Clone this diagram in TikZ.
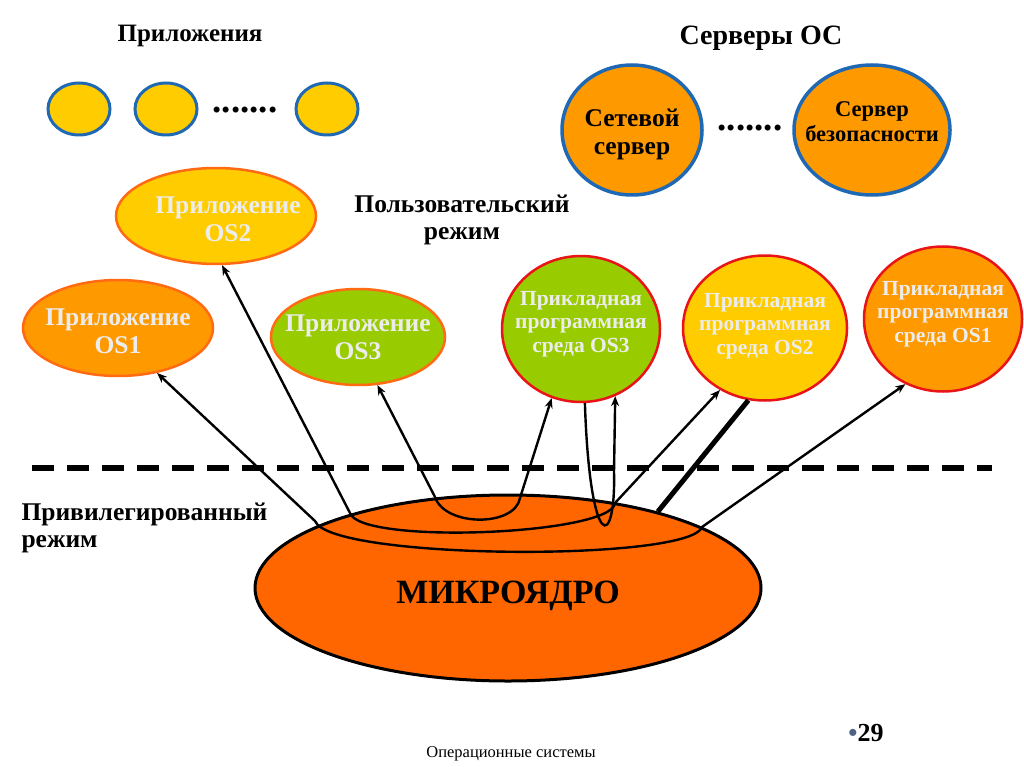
\documentclass[tikz,border=0pt]{standalone}
\usepackage{fontspec}
\setmainfont{Liberation Serif}
\usetikzlibrary{arrows.meta,shapes.geometric,positioning}

\definecolor{appyellow}{RGB}{255,204,0}
\definecolor{srvorange}{RGB}{255,153,0}
\definecolor{appgreen}{RGB}{153,204,0}
\definecolor{kernorange}{RGB}{255,102,0}
\definecolor{rimorange}{RGB}{255,106,19}
\definecolor{rimred}{RGB}{232,20,24}
\definecolor{rimblue}{RGB}{31,105,180}
\definecolor{paletext}{RGB}{236,236,236}
\definecolor{bulletblue}{RGB}{79,99,131}

\begin{document}
\begin{tikzpicture}[x=1pt,y=-1pt,>={Stealth[length=10pt,width=8pt]},
  title/.style={font=\bfseries\fontsize{25}{30}\selectfont},
  modetext/.style={font=\bfseries\fontsize{25.5}{27.5}\selectfont},
  dotrow/.style={font=\bfseries\fontsize{37}{40}\selectfont,anchor=base},
  appdot/.style={ellipse,draw=rimblue,fill=appyellow,line width=3pt,
    minimum width=62pt,minimum height=52pt,inner sep=0pt},
  server/.style={ellipse,draw=rimblue,fill=srvorange,line width=3.5pt,
    minimum height=130pt,inner sep=0pt},
  srvtext/.style={align=center,font=\bfseries\fontsize{25.5}{28}\selectfont},
  app/.style={ellipse,draw=rimorange,line width=2.5pt,
    minimum height=96pt,inner sep=0pt},
  apptext/.style={align=center,text=paletext,font=\bfseries\fontsize{25.5}{28}\selectfont},
  env/.style={ellipse,draw=rimred,line width=2.5pt,
    minimum width=160pt,minimum height=146pt,inner sep=0pt},
  envtext/.style={align=center,text=paletext,font=\bfseries\fontsize{21.5}{23.5}\selectfont},
  kernel/.style={ellipse,draw=black,fill=kernorange,line width=3pt,
    minimum width=506pt,minimum height=186pt,inner sep=0pt},
  link/.style={line width=2.4pt},
  heavy/.style={line width=5pt},
  modeline/.style={line width=5.5pt,dash pattern=on 22pt off 13pt}]

  \fill[white] (0,0) rectangle (1024,767);
  \useasboundingbox (0,0) rectangle (1024,767);

  % applications
  \node[title,anchor=base] (apptitle) at (190,42) {Приложения};
  \node[appdot] (dotA) at (79,109) {};
  \node[appdot] (dotB) [right=22pt of dotA] {};
  \node[appdot] (dotC) at (327,109) {};
  \node[dotrow] (appdots) at (245,113) {.......};

  % OS servers
  \node[title,font=\bfseries\fontsize{28}{32}\selectfont,anchor=base] (srvtitle) at (761,45) {Серверы ОС};
  \node[server,minimum width=140pt,
    label={[srvtext,yshift=-4pt]center:Сетевой\\сервер}] (netsrv) at (632,130) {};
  \node[server,minimum width=156pt,
    label={[srvtext,font=\bfseries\fontsize{22.5}{25}\selectfont,yshift=8pt]center:Сервер\\безопасности}] (secsrv) at (872,130) {};
  \node[dotrow] (srvdots) at (750,131) {.......};

  % user mode
  \node[app,fill=appyellow,minimum width=200pt,
    label={[apptext,xshift=12pt,yshift=-3pt]center:Приложение\\OS2}] (app2) at (216,216) {};
  \node[app,fill=srvorange,minimum width=190pt,
    label={[apptext,yshift=-3pt]center:Приложение\\OS1}] (app1) at (118,328) {};
  \node[app,fill=appgreen,minimum width=174pt,
    label={[apptext]center:Приложение\\OS3}] (app3) at (358,337) {};
  \node[modetext,align=center] (usermode) at (462,220) {Пользовательский\\режим};

  \node[env,fill=appgreen,minimum width=158pt,
    label={[envtext,yshift=5pt]center:Прикладная\\программная\\среда OS3}] (env3) at (581,329) {};
  \node[env,fill=appyellow,minimum width=164pt,minimum height=145pt,
    label={[envtext,yshift=2pt]center:Прикладная\\программная\\среда OS2}] (env2) at (765,328) {};
  \node[env,fill=srvorange,minimum width=158pt,minimum height=145pt,
    label={[envtext,yshift=5pt]center:Прикладная\\программная\\среда OS1}] (env1) at (943,319) {};

  % mode border
  \coordinate (dashL) at (32,468);
  \coordinate (dashR) at (992,468);
  \draw[modeline] (dashL) -- (dashR);

  % privileged mode
  \node[modetext,align=left,anchor=west] (kernmode) at (18,528) {Привилегированный\\режим};
  \node[kernel,label={[font=\bfseries\fontsize{34}{38}\selectfont,yshift=-8pt]center:МИКРОЯДРО}] (kernel) at (508,588) {};

  \coordinate (k1a) at (315,521);
  \coordinate (k1b) at (702,527);
  \coordinate (k2a) at (350,513);
  \coordinate (k2b) at (615,503);
  \coordinate (k3a) at (435,497);
  \coordinate (k3b) at (520,498);
  \coordinate (loopup) at (614,472);

  \draw[link,<->] (app1.-49) -- (k1a) .. controls (330,560) and (690,562) .. (k1b) -- (env1.-120);
  \draw[link,<->] (app2.-83) -- (k2a) .. controls (360,545) and (612,535) .. (k2b) -- (env2.-126);
  \draw[link,<->] (app3.-68) -- (k3a) .. controls (445,527) and (515,527) .. (k3b) -- (env3.-113);
  \draw[link,->] (env3.-87) .. controls (590,555) and (616,550) .. (loopup) -- (env3.-63);
  \draw[heavy] (env2.-103) -- (kernel.27);

  % footer
  \node[font=\fontsize{16.5}{19}\selectfont] (footer) at (511,754) {Операционные системы};
  \node[font=\bfseries\fontsize{26}{30}\selectfont] (pagenum) at (866,733) {{\color{bulletblue}•}29};
\end{tikzpicture}
\end{document}
